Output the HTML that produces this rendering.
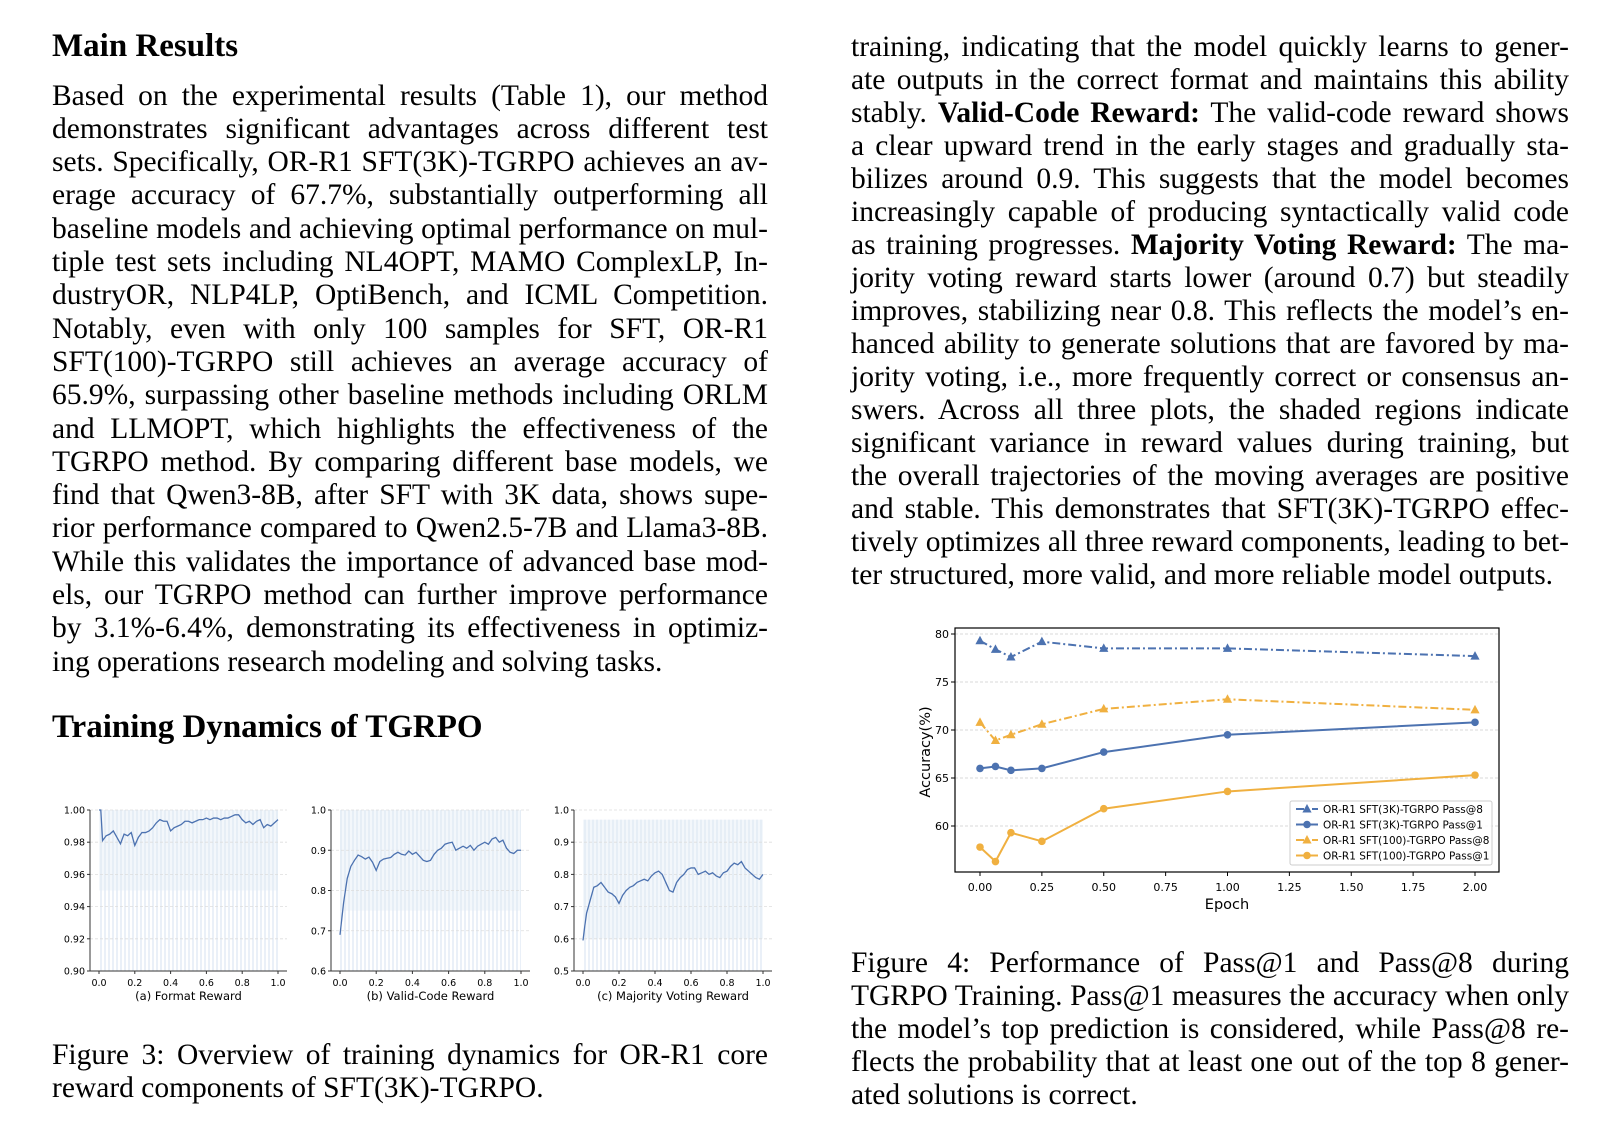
<!DOCTYPE html>
<html><head><meta charset="utf-8">
<style>
body{margin:0;background:#fff;}
#page{position:relative;width:1624px;height:1128px;overflow:hidden;background:#fff;font-family:"Liberation Serif",serif;color:#000;}
.ln{position:absolute;height:33px;line-height:33px;font-size:29.5px;white-space:nowrap;text-align:justify;text-align-last:justify;}
.ln.last{text-align-last:left;}
.l{left:52px;width:716px;}
.r{left:851px;width:718px;}
h2{position:absolute;margin:0;font-size:33px;font-weight:bold;white-space:nowrap;line-height:36px;}
svg text{font-family:"DejaVu Sans","Liberation Sans",sans-serif;}
</style></head><body>
<div id="page">
<h2 style="left:52px;top:28px">Main Results</h2>
<div id="leftText"></div>
<h2 style="left:52px;top:709px">Training Dynamics of TGRPO</h2>
<div id="rightText"></div>
<div id="cap3"></div>
<div id="cap4"></div>
<svg id="chart" width="1624" height="1128" style="position:absolute;left:0;top:0">
<defs><pattern id="vlines" width="4" height="10" patternUnits="userSpaceOnUse"><line x1="1" y1="0" x2="1" y2="10" stroke="#c5d6ec" stroke-width="1" opacity="0.7"/></pattern></defs>
</svg>
</div>
<script>
const leftLines=["Based on the experimental results (Table 1), our method","demonstrates significant advantages across different test","sets. Specifically, OR-R1 SFT(3K)-TGRPO achieves an av-","erage accuracy of 67.7%, substantially outperforming all","baseline models and achieving optimal performance on mul-","tiple test sets including NL4OPT, MAMO ComplexLP, In-","dustryOR, NLP4LP, OptiBench, and ICML Competition.","Notably, even with only 100 samples for SFT, OR-R1","SFT(100)-TGRPO still achieves an average accuracy of","65.9%, surpassing other baseline methods including ORLM","and LLMOPT, which highlights the effectiveness of the","TGRPO method. By comparing different base models, we","find that Qwen3-8B, after SFT with 3K data, shows supe-","rior performance compared to Qwen2.5-7B and Llama3-8B.","While this validates the importance of advanced base mod-","els, our TGRPO method can further improve performance","by 3.1%-6.4%, demonstrating its effectiveness in optimiz-","ing operations research modeling and solving tasks."];
const rightLines=["training, indicating that the model quickly learns to gener-","ate outputs in the correct format and maintains this ability","stably. <b>Valid-Code Reward:</b> The valid-code reward shows","a clear upward trend in the early stages and gradually sta-","bilizes around 0.9. This suggests that the model becomes","increasingly capable of producing syntactically valid code","as training progresses. <b>Majority Voting Reward:</b> The ma-","jority voting reward starts lower (around 0.7) but steadily","improves, stabilizing near 0.8. This reflects the model’s en-","hanced ability to generate solutions that are favored by ma-","jority voting, i.e., more frequently correct or consensus an-","swers. Across all three plots, the shaded regions indicate","significant variance in reward values during training, but","the overall trajectories of the moving averages are positive","and stable. This demonstrates that SFT(3K)-TGRPO effec-","tively optimizes all three reward components, leading to bet-","ter structured, more valid, and more reliable model outputs."];
const cap3Lines=["Figure 3: Overview of training dynamics for OR-R1 core","reward components of SFT(3K)-TGRPO."];
const cap4Lines=["Figure 4: Performance of Pass@1 and Pass@8 during","TGRPO Training. Pass@1 measures the accuracy when only","the model’s top prediction is considered, while Pass@8 re-","flects the probability that at least one out of the top 8 gener-","ated solutions is correct."];
function put(id,lines,cls,y0,step){
  const c=document.getElementById(id);
  lines.forEach((t,i)=>{const d=document.createElement('div');
    d.className='ln '+cls+(i===lines.length-1?' last':'');
    d.style.top=(y0+i*step-16.5)+'px';
    
    
    const s=document.createElement('span');s.innerHTML=t;
    
    
    d.appendChild(s);
    c.appendChild(d);
    // measure natural width; tighten if it overflows
    s.style.whiteSpace='nowrap';
    const tmp=document.createElement('span');tmp.innerHTML=t;tmp.style.cssText='position:absolute;visibility:hidden;white-space:nowrap;font-size:29.5px;font-family:"Liberation Serif",serif;';
    document.body.appendChild(tmp);const w=tmp.getBoundingClientRect().width;document.body.removeChild(tmp);
    const W=d.clientWidth;
    if(w>W-2){const n=t.replace(/<[^>]+>/g,'').length;d.style.letterSpacing=((W-2-w)/n)+'px';}
  });
}
put('leftText',leftLines,'l',96,33.3);
put('rightText',rightLines,'r',47,33.05);
put('cap3',cap3Lines,'l',1055,33);
put('cap4',cap4Lines,'r',963,33.2);

const epochs=[0,0.0625,0.125,0.25,0.5,1,2];
const pass8_3k=[79.3,78.4,77.6,79.2,78.5,78.5,77.7];
const pass1_3k=[66.0,66.2,65.8,66.0,67.7,69.5,70.8];
const pass8_100=[70.8,68.9,69.5,70.6,72.2,73.2,72.1];
const pass1_100=[57.8,56.3,59.3,58.4,61.8,63.6,65.3];
const seriesNames=["OR-R1 SFT(3K)-TGRPO Pass@8","OR-R1 SFT(3K)-TGRPO Pass@1","OR-R1 SFT(100)-TGRPO Pass@8","OR-R1 SFT(100)-TGRPO Pass@1"];
const yTicks4=[60,65,70,75,80];
const xTicks4=[0,0.25,0.5,0.75,1,1.25,1.5,1.75,2];

const stepX=[0,0.01,0.02,0.04,0.06,0.08,0.10,0.12,0.14,0.16,0.18,0.20,0.22,0.24,0.26,0.28,0.30,0.32,0.34,0.36,0.38,0.40,0.42,0.44,0.46,0.48,0.50,0.52,0.54,0.56,0.58,0.60,0.62,0.64,0.66,0.68,0.70,0.72,0.74,0.76,0.78,0.80,0.82,0.84,0.86,0.88,0.90,0.92,0.94,0.96,0.98,1.0];
const formatReward=[1.0,1.0,0.981,0.984,0.985,0.987,0.983,0.979,0.985,0.984,0.986,0.978,0.983,0.986,0.986,0.987,0.989,0.992,0.994,0.993,0.993,0.987,0.989,0.990,0.991,0.993,0.993,0.992,0.993,0.994,0.994,0.995,0.994,0.995,0.995,0.994,0.995,0.995,0.996,0.997,0.997,0.994,0.992,0.993,0.991,0.993,0.994,0.989,0.991,0.990,0.992,0.994];
const validReward=[0.69,0.73,0.77,0.83,0.86,0.875,0.888,0.884,0.878,0.883,0.87,0.85,0.872,0.878,0.88,0.882,0.89,0.895,0.89,0.888,0.898,0.89,0.895,0.885,0.875,0.872,0.875,0.89,0.90,0.905,0.915,0.918,0.92,0.9,0.905,0.91,0.905,0.912,0.9,0.91,0.915,0.92,0.915,0.928,0.932,0.92,0.925,0.905,0.895,0.892,0.90,0.90];
const majorityReward=[0.595,0.64,0.68,0.72,0.76,0.765,0.775,0.76,0.745,0.74,0.73,0.71,0.735,0.75,0.76,0.765,0.775,0.78,0.785,0.78,0.795,0.805,0.81,0.8,0.775,0.75,0.745,0.775,0.79,0.80,0.815,0.82,0.82,0.80,0.805,0.81,0.80,0.805,0.795,0.79,0.805,0.81,0.825,0.835,0.83,0.84,0.82,0.81,0.80,0.79,0.785,0.80];
const xTicks3=[0,0.2,0.4,0.6,0.8,1.0];
const yTicksA=[0.90,0.92,0.94,0.96,0.98,1.00];
const yTicksB=[0.6,0.7,0.8,0.9,1.0];
const yTicksC=[0.5,0.6,0.7,0.8,0.9,1.0];

const NS='http://www.w3.org/2000/svg';
const svg=document.getElementById('chart');
function el(tag,attrs,parent){const e=document.createElementNS(NS,tag);for(const k in attrs)e.setAttribute(k,attrs[k]);(parent||svg).appendChild(e);return e;}
function txt(s,attrs,parent){const e=el('text',attrs,parent);e.textContent=s;return e;}

const BLUE='#4c72b0',ORANGE='#f0b040';
const g4=el('g',{});


const fx=v=>980+v*(1475-980)/2;
const fy=v=>634+(80-v)*48/5;
const L=955,R=1499,T=628,B=872;
yTicks4.forEach(v=>{
  const gl=el('line',{x1:L,x2:R,y1:fy(v),y2:fy(v),stroke:'#ccc','stroke-width':0.8,'stroke-dasharray':'3,2'},g4);
  
  
  el('line',{x1:L-4,x2:L,y1:fy(v),y2:fy(v),stroke:'#000','stroke-width':1},g4);
  const t=txt(String(v),{x:L-6,y:fy(v)+4,'font-size':11,'text-anchor':'end'},g4);
  
  
});
xTicks4.forEach(v=>{
  el('line',{x1:fx(v),x2:fx(v),y1:B,y2:B+4,stroke:'#000','stroke-width':1},g4);
  const t=txt(v.toFixed(2),{x:fx(v),y:B+19,'font-size':11,'text-anchor':'middle'},g4);
  
  
});
const frame=el('rect',{x:L,y:T,width:R-L,height:B-T,fill:'none',stroke:'#000','stroke-width':1.2},g4);


const xl=txt('Epoch',{x:(L+R)/2,y:909,'font-size':14.5,'text-anchor':'middle'},g4);


const yl=txt('Accuracy(%)',{x:0,y:0,'font-size':14.5,'text-anchor':'middle',transform:'translate(930,752) rotate(-90)'},g4);


function marker(type,x,y,color,parent){
  if(type==='tri') return el('polygon',{points:`${x},${y-5} ${x-4.6},${y+3.5} ${x+4.6},${y+3.5}`,fill:color},parent);
  return el('circle',{cx:x,cy:y,r:3.8,fill:color},parent);
}
const series=[[pass8_3k,BLUE,'tri',true],[pass1_3k,BLUE,'dot',false],[pass8_100,ORANGE,'tri',true],[pass1_100,ORANGE,'dot',false]];
const seriesKeys=['series-3k-pass8','series-3k-pass1','series-100-pass8','series-100-pass1'];
series.forEach((s,si)=>{
  const [vals,c,m,dash]=s;
  const gs=el('g',{},g4);
  
  
  const pts=vals.map((v,i)=>fx(epochs[i])+','+fy(v)).join(' ');
  const a={points:pts,fill:'none',stroke:c,'stroke-width':2};
  if(dash)a['stroke-dasharray']='8,3,2,3';
  el('polyline',a,gs);
  vals.forEach((v,i)=>{const mk=marker(m,fx(epochs[i]),fy(v),c,gs);
    
    });
});
const lg=el('g',{},g4);


el('rect',{x:1290,y:801,width:202,height:64,fill:'#fff','fill-opacity':0.85,stroke:'#ccc','stroke-width':1,rx:2},lg);
series.forEach((s,i)=>{
  const y=809+i*15.5;
  const le=el('g',{},lg);
  
  
  const a={x1:1296,x2:1318,y1:y,y2:y,stroke:s[1],'stroke-width':2};
  if(s[3])a['stroke-dasharray']='8,3,2,3';
  el('line',a,le);
  marker(s[2],1307,y,s[1],le);
  txt(seriesNames[i],{x:1323,y:y+3.8,'font-size':10.5},le);
});

function small(cfg){
  const g=el('g',{});
  
  
  const T=810,B=971;
  const sx=v=>cfg.x0+v*(cfg.x1-cfg.x0);
  const sy=v=>B-(v-cfg.ymin)/(cfg.ymax-cfg.ymin)*(B-T);
  const right=cfg.x1+9;
  const band=el('rect',{x:sx(0),y:sy(cfg.bandHi),width:sx(1)-sx(0),height:sy(cfg.bandLo)-sy(cfg.bandHi),fill:'url(#vlines)'},g);
  
  
  el('rect',{x:sx(0),y:sy(cfg.coreHi),width:sx(1)-sx(0),height:sy(cfg.coreLo)-sy(cfg.coreHi),fill:'#dce7f4',opacity:0.35},g);
  cfg.yt.forEach(v=>{
    const gl=el('line',{x1:cfg.left,x2:right,y1:sy(v),y2:sy(v),stroke:'#ddd','stroke-width':0.8,'stroke-dasharray':'3,2'},g);
    
    
    el('line',{x1:cfg.left-3,x2:cfg.left,y1:sy(v),y2:sy(v),stroke:'#333'},g);
    const t=txt(cfg.fmt(v),{x:cfg.left-5,y:sy(v)+3.5,'font-size':9.5,'text-anchor':'end'},g);
    
    
  });
  xTicks3.forEach(v=>{
    el('line',{x1:sx(v),x2:sx(v),y1:B,y2:B+3,stroke:'#333'},g);
    const t=txt(v.toFixed(1),{x:sx(v),y:B+15,'font-size':9.5,'text-anchor':'middle'},g);
    
    
  });
  el('line',{x1:cfg.left,x2:cfg.left,y1:T,y2:B,stroke:'#333','stroke-width':1},g);
  el('line',{x1:cfg.left,x2:right,y1:B,y2:B,stroke:'#333','stroke-width':1},g);
  const pl=el('polyline',{points:cfg.vals.map((v,i)=>sx(stepX[i])+','+sy(v)).join(' '),fill:'none',stroke:BLUE,'stroke-width':1.3},g);
  
  
  const c=txt(cfg.cap,{x:(cfg.left+right)/2,y:1000,'font-size':11.5,'text-anchor':'middle'},g);
  
  
}
small({name:'format-reward-chart',left:90,x0:99,x1:278,ymin:0.90,ymax:1.00,yt:yTicksA,fmt:v=>v.toFixed(2),vals:formatReward,cap:'(a) Format Reward',bandLo:0.90,bandHi:1.0,coreLo:0.95,coreHi:1.0});
small({name:'valid-code-reward-chart',left:331,x0:340,x1:521,ymin:0.6,ymax:1.0,yt:yTicksB,fmt:v=>v.toFixed(1),vals:validReward,cap:'(b) Valid-Code Reward',bandLo:0.6,bandHi:1.0,coreLo:0.75,coreHi:1.0});
small({name:'majority-voting-reward-chart',left:574,x0:583,x1:763,ymin:0.5,ymax:1.0,yt:yTicksC,fmt:v=>v.toFixed(1),vals:majorityReward,cap:'(c) Majority Voting Reward',bandLo:0.5,bandHi:0.97,coreLo:0.6,coreHi:0.97});
</script>
</body></html>
